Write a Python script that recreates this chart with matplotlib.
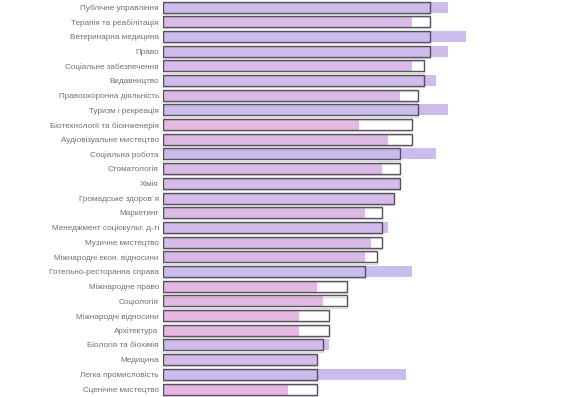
import numpy as np
import matplotlib
matplotlib.use("Agg")
import matplotlib.pyplot as plt
from matplotlib.colors import LinearSegmentedColormap

categories = [
    "Публічне управління", "Терапія та реабілітація", "Ветеринарна медицина",
    "Право", "Соціальне забезпечення", "Видавництво",
    "Правоохоронна діяльність", "Туризм і рекреація", "Біотехнології та біоінженерія",
    "Аудіовізуальне мистецтво", "Соціальна робота", "Стоматологія",
    "Хімія", "Громадське здоров`я", "Маркетинг",
    "Менеджмент соціокульт. д-ті", "Музичне мистецтво", "Міжнародні екон. відносини",
    "Готельно-ресторанна справа", "Міжнародне право", "Соціологія",
    "Міжнародні відносини", "Архітектура", "Біологія та біохімія",
    "Медицина", "Легка промисловість", "Сценічне мистецтво",
]
# outlined bars (reference) and filled bars (actual)
outline_vals = [45, 45, 45, 45, 44, 44, 43, 43, 42, 42, 40, 40, 40, 39,
                37, 37, 37, 36, 34, 31, 31, 28, 28, 27, 26, 26, 26]
fill_vals = [48, 42, 51, 48, 42, 46, 40, 48, 33, 38, 46, 37, 40, 39,
             34, 38, 35, 34, 42, 26, 27, 23, 23, 28, 26, 41, 21]

outline_vals = np.array(outline_vals, dtype=float)
fill_vals = np.array(fill_vals, dtype=float)
y = np.arange(len(categories))

cmap = LinearSegmentedColormap.from_list("pp", ["#e7b8e1", "#cbbcee"])
ratio = np.clip((fill_vals / outline_vals - 0.8) / 0.3, 0, 1)
colors = cmap(ratio)

fig = plt.figure(figsize=(5.64, 3.97), dpi=100)
ax = fig.add_axes([163 / 564, 0, 1 - 163 / 564, 1])

h = 0.75
# filled bars
ax.barh(y, fill_vals, height=h, color=colors, edgecolor="none", zorder=2)
# shadow of outline bars
ax.barh(y + 0.08, outline_vals, height=h, color="none", edgecolor="#b0b0b0",
        linewidth=0.9, alpha=0.45, zorder=3)
# outlined bars
ax.barh(y, outline_vals, height=h, color="none", edgecolor="#4a4250",
        linewidth=1.0, alpha=0.9, zorder=4)

ax.set_xlim(0, 67.6)
ax.set_ylim(26.54, -0.48)
ax.set_yticks(y)
ax.set_yticklabels(categories, fontsize=5.9, color="#707070",
                   family=["Liberation Sans", "DejaVu Sans"])
ax.tick_params(axis="y", length=0, pad=3)
ax.set_xticks([])
for s in ax.spines.values():
    s.set_visible(False)

fig.savefig("out.png", dpi=100)
